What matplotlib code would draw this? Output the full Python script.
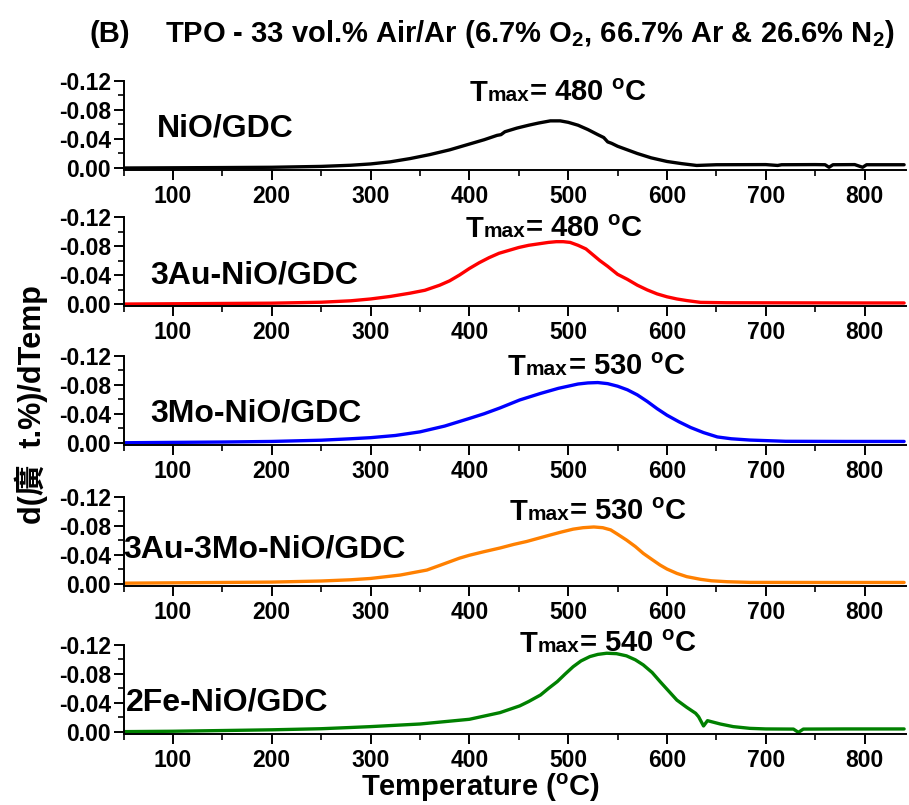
import matplotlib
matplotlib.use("Agg")
import matplotlib.pyplot as plt
from matplotlib.ticker import MultipleLocator

plt.rcParams["font.family"] = ["Liberation Sans", "Noto Sans CJK TC", "DejaVu Sans"]
plt.rcParams["font.weight"] = "bold"
plt.rcParams["mathtext.fontset"] = "custom"
plt.rcParams["mathtext.rm"] = "Liberation Sans:bold"
plt.rcParams["mathtext.it"] = "Liberation Sans:bold"
plt.rcParams["mathtext.bf"] = "Liberation Sans:bold"

# ---- data ----
samples = ["NiO/GDC", "3Au-NiO/GDC", "3Mo-NiO/GDC", "3Au-3Mo-NiO/GDC", "2Fe-NiO/GDC"]
colors = ["black", "#ff0000", "#0000ff", "#ff8000", "#008000"]
tmax = [480, 480, 530, 530, 540]

t_nio = [50, 100, 150, 200, 250, 280, 300, 320, 340, 360, 380, 400, 415, 428, 432, 436, 448, 460,
         470, 482, 492, 500, 510, 520, 530, 536, 540, 544, 550, 560, 570, 584, 600, 615, 630, 650,
         700, 712, 716, 750, 760, 764, 768, 790, 798, 802, 840]
v_nio = [0, -0.0003, -0.0006, -0.001, -0.0022, -0.0038, -0.0056, -0.0085, -0.013, -0.0185, -0.025,
         -0.033, -0.039, -0.045, -0.046, -0.050, -0.055, -0.059, -0.062, -0.065, -0.065, -0.063,
         -0.059, -0.053, -0.046, -0.042, -0.036, -0.034, -0.030, -0.025, -0.020, -0.014, -0.009,
         -0.006, -0.0035, -0.0045, -0.0047, -0.0035, -0.0045, -0.0047, -0.0045, -0.001, -0.0045,
         -0.0047, -0.001, -0.0045, -0.0045]

t_au = [50, 100, 150, 200, 250, 280, 300, 320, 340, 355, 370, 380, 390, 400, 410, 420, 430, 440,
        450, 460, 470, 480, 488, 495, 502, 510, 518, 525, 532, 540, 550, 560, 570, 580, 590, 600,
        610, 620, 634, 660, 700, 750, 800, 840]
v_au = [0, -0.0004, -0.0008, -0.0012, -0.0025, -0.0045, -0.007, -0.0105, -0.015, -0.019, -0.026,
        -0.032, -0.040, -0.049, -0.057, -0.064, -0.070, -0.074, -0.078, -0.081, -0.083, -0.085,
        -0.086, -0.086, -0.085, -0.081, -0.076, -0.068, -0.060, -0.052, -0.041, -0.034, -0.026,
        -0.0195, -0.014, -0.010, -0.007, -0.0048, -0.0023, -0.0018, -0.0017, -0.0016, -0.0015,
        -0.0015]

t_mo = [50, 100, 150, 200, 250, 280, 300, 325, 350, 375, 400, 415, 431, 451, 472, 490, 500, 510,
        520, 530, 540, 550, 560, 570, 580, 590, 600, 612, 624, 637, 651, 665, 684, 720, 780, 840]
v_mo = [0, -0.0005, -0.001, -0.0018, -0.0035, -0.0055, -0.007, -0.010, -0.015, -0.023, -0.0335,
        -0.040, -0.048, -0.059, -0.068, -0.075, -0.078, -0.081, -0.0825, -0.083, -0.0815, -0.078,
        -0.073, -0.066, -0.057, -0.047, -0.038, -0.029, -0.021, -0.014, -0.008, -0.0055, -0.0037,
        -0.002, -0.0018, -0.0018]

t_aumo = [50, 100, 150, 200, 250, 280, 300, 330, 357, 370, 380, 390, 400, 415, 431, 445, 458, 470,
          482, 493, 505, 515, 526, 535, 543, 550, 559, 568, 576, 585, 593, 600, 610, 620, 634, 645,
          661, 684, 750, 840]
v_aumo = [-0.0005, -0.001, -0.0015, -0.002, -0.0035, -0.0052, -0.007, -0.0117, -0.0186, -0.025,
          -0.030, -0.035, -0.039, -0.044, -0.049, -0.054, -0.058, -0.0625, -0.067, -0.071, -0.075,
          -0.077, -0.078, -0.077, -0.074, -0.068, -0.060, -0.051, -0.0416, -0.033, -0.0255, -0.020,
          -0.014, -0.0095, -0.0058, -0.0038, -0.0025, -0.0016, -0.0015, -0.0015]

t_fe = [50, 100, 150, 200, 250, 280, 300, 350, 400, 431, 451, 460, 472, 480, 489, 497, 505, 513,
        522, 530, 539, 549, 559, 568, 576, 585, 593, 602, 610, 620, 629, 632, 637, 641, 654, 667,
        684, 700, 728, 733, 738, 780, 840]
v_fe = [-0.0005, -0.001, -0.002, -0.003, -0.0045, -0.0062, -0.0074, -0.011, -0.0175, -0.0267,
        -0.036, -0.042, -0.051, -0.060, -0.0695, -0.080, -0.090, -0.098, -0.104, -0.107, -0.1086,
        -0.108, -0.105, -0.0995, -0.0925, -0.082, -0.0695, -0.056, -0.044, -0.034, -0.0258, -0.021,
        -0.0083, -0.0156, -0.011, -0.0074, -0.005, -0.0042, -0.004, 0.0005, -0.004, -0.0042,
        -0.0042]

temps = [t_nio, t_au, t_mo, t_aumo, t_fe]
vals = [v_nio, v_au, v_mo, v_aumo, v_fe]

# where the texts sit (data coords): sample name, and left/baseline of the Tmax note
name_pos = [(84, -0.054), (77, -0.040), (77, -0.040), (50, -0.047), (52, -0.040)]
tmax_pos = [(400, -0.092), (396, -0.092), (439, -0.0935), (441, -0.0876), (451, -0.110)]

fig = plt.figure(figsize=(9.09, 8.05), dpi=100)
bottoms = [0.7886, 0.6196, 0.4473, 0.2724, 0.0880]
left, width, height = 0.1359, 0.8609, 0.1108

for i in range(5):
    ax = fig.add_axes([left, bottoms[i], width, height])
    ax.plot(temps[i], vals[i], color=colors[i], lw=2.4, solid_joinstyle="round",
            solid_capstyle="round")
    ax.set_xlim(50, 842)
    ax.set_ylim(0.003, -0.12)
    ax.spines["top"].set_visible(False)
    ax.spines["right"].set_visible(False)
    ax.spines["left"].set_linewidth(1.4)
    ax.spines["bottom"].set_linewidth(1.4)
    ax.xaxis.set_major_locator(MultipleLocator(100))
    ax.xaxis.set_minor_locator(MultipleLocator(50))
    ax.set_yticks([0.0, -0.04, -0.08, -0.12])
    ax.set_yticklabels(["0.00", "-0.04", "-0.08", "-0.12"])
    ax.yaxis.set_minor_locator(MultipleLocator(0.02))
    ax.tick_params(which="major", direction="out", length=7, width=1.4, labelsize=16.5, pad=2)
    ax.tick_params(which="minor", direction="out", length=4, width=1.2)
    ax.tick_params(axis="x", pad=4)
    ax.patch.set_alpha(0)
    ax.text(name_pos[i][0], name_pos[i][1], samples[i], fontsize=23, fontweight="bold",
            ha="left", va="center")
    # "T" + small "max" on the same baseline + "= 480 oC"
    tx, ty = tmax_pos[i]
    t1 = ax.text(tx, ty, "T", fontsize=21, ha="left", va="baseline", clip_on=False)
    t2 = ax.annotate("max", xy=(1, ty), xycoords=(t1, "data"), fontsize=15,
                     ha="left", va="baseline", annotation_clip=False)
    ax.annotate(r"= %d $^{\rm o}$C" % tmax[i], xy=(1, ty), xycoords=(t2, "data"),
                fontsize=21, ha="left", va="baseline", annotation_clip=False)
    if i == 4:
        ax.set_xlabel(r"Temperature ($^{\rm o}$C)", fontsize=21, fontweight="bold")
        ax.xaxis.set_label_coords(0.4556, -0.42)

fig.text(0.034, 0.497, "d(廣  t.%)/dTemp", rotation=90, fontsize=22, fontweight="bold",
         ha="center", va="center")
fig.text(0.099, 0.958, "(B)", fontsize=21, fontweight="bold", ha="left", va="center")
fig.text(0.182, 0.958, r"TPO - 33 vol.% Air/Ar (6.7% O$_2$, 66.7% Ar & 26.6% N$_2$)",
         fontsize=21, fontweight="bold", ha="left", va="center")

fig.savefig("out.png", dpi=100)
